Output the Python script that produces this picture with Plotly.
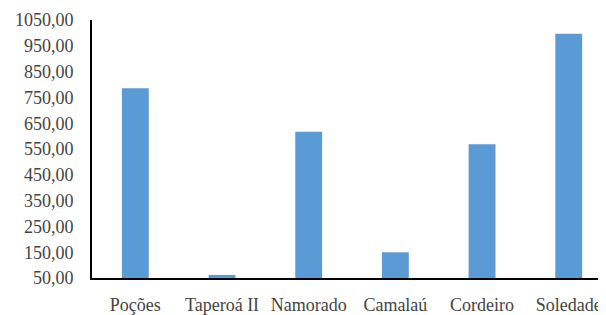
import plotly.graph_objects as go

categories = ["Poções", "Taperoá II", "Namorado", "Camalaú", "Cordeiro", "Soledade"]
values = [785, 62, 617, 150, 568, 997]
tick_values = [50, 150, 250, 350, 450, 550, 650, 750, 850, 950, 1050]
tick_labels = [f"{v},00" for v in tick_values]

fig = go.Figure(
    go.Bar(
        x=categories,
        y=values,
        marker=dict(color="#5B9BD5", line=dict(width=0)),
        width=0.31,
    )
)

font = dict(family="Liberation Serif, Times New Roman, serif", size=18, color="#444444")

fig.update_layout(
    width=598,
    height=307,
    margin=dict(l=84, r=0, t=12, b=35),
    paper_bgcolor="white",
    plot_bgcolor="white",
    showlegend=False,
    font=font,
)
fig.update_xaxes(
    type="category",
    range=[-0.5, 5.43],
    showline=True,
    linecolor="black",
    linewidth=2,
    showgrid=False,
    ticks="",
    ticklabelstandoff=9,
    tickfont=font,
)
fig.update_yaxes(
    range=[50, 1050],
    tickvals=tick_values,
    ticktext=tick_labels,
    showline=True,
    linecolor="black",
    linewidth=2,
    showgrid=False,
    zeroline=False,
    ticks="",
    ticklabelstandoff=13,
    tickfont=font,
)

fig.write_html("out.html")
